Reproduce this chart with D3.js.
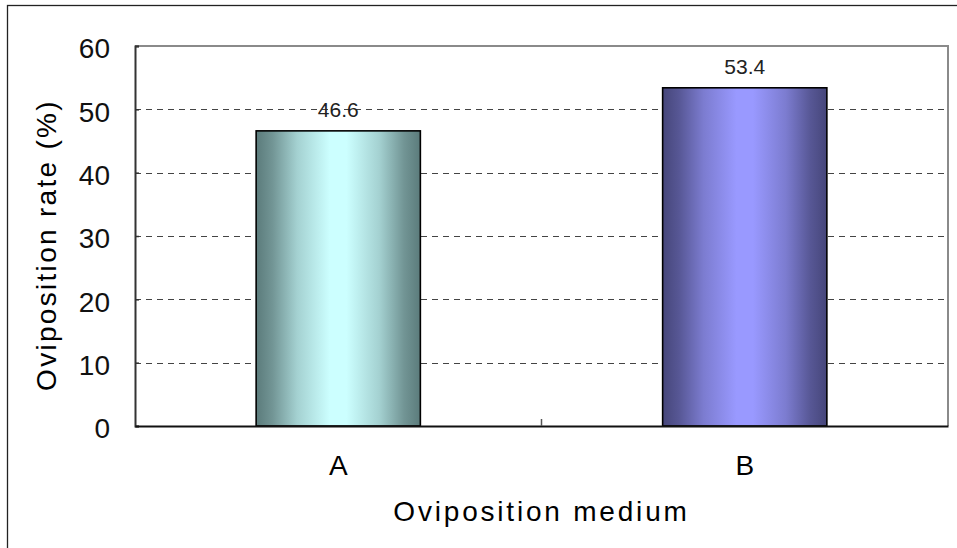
<!DOCTYPE html>
<html>
<head>
<meta charset="utf-8">
<script src="https://cdn.jsdelivr.net/npm/d3@7"></script>
<style>
  html, body { margin: 0; padding: 0; background: #fff; }
  svg { display: block; font-family: "Liberation Sans", Arial, sans-serif; }
</style>
</head>
<body>
<svg id="chart" width="957" height="548"></svg>
<script>
// Oviposition rate by medium
const categories = ["A", "B"];
const rates = [46.6, 53.4];
const yTicks = [0, 10, 20, 30, 40, 50, 60];
const gridValues = [10, 20, 30, 40, 50];

const svg = d3.select("#chart");
const W = 957, H = 548;
const plot = { left: 135, top: 46, right: 948, bottom: 426 };

// outer frame
svg.append("rect")
  .attr("x", 7.5).attr("y", 5.5)
  .attr("width", W + 10).attr("height", H + 10)
  .attr("fill", "#fff").attr("stroke", "#222").attr("stroke-width", 1.3);

const x = d3.scaleBand().domain(categories).range([plot.left, plot.right]).padding(0);
const y = d3.scaleLinear().domain([0, 60]).range([plot.bottom, plot.top]);

// bar gradients: dark edges, light centre
const defs = svg.append("defs");
const palettes = {
  A: { edge: "#5b7b7b", mid: "#ccffff" },
  B: { edge: "#46467a", mid: "#9999ff" }
};
categories.forEach(c => {
  const g = defs.append("linearGradient").attr("id", "grad" + c)
    .attr("x1", "0%").attr("x2", "100%").attr("y1", "0%").attr("y2", "0%");
  const p = palettes[c];
  const mix = d3.interpolateRgb(p.edge, p.mid);
  [[0, 0], [0.1, 0.2], [0.25, 0.65], [0.45, 1], [0.55, 1], [0.75, 0.65], [0.9, 0.2], [1, 0]]
    .forEach(([o, t]) => g.append("stop").attr("offset", o).attr("stop-color", mix(t)));
});

// dashed gridlines
svg.append("g").selectAll("line").data(gridValues).join("line")
  .attr("x1", plot.left).attr("x2", plot.right)
  .attr("y1", d => Math.round(y(d)) + 0.5).attr("y2", d => Math.round(y(d)) + 0.5)
  .attr("stroke", "#444").attr("stroke-width", 1).attr("stroke-dasharray", "6,5");

// plot border (top and right)
svg.append("path")
  .attr("d", `M${plot.left},${plot.top} H${plot.right} V${plot.bottom}`)
  .attr("fill", "none").attr("stroke", "#8a8a8a").attr("stroke-width", 2);

// bars
const barFrac = 0.404;
svg.append("g").selectAll("rect").data(categories).join("rect")
  .attr("x", d => x(d) + x.bandwidth() * (1 - barFrac) / 2)
  .attr("width", x.bandwidth() * barFrac)
  .attr("y", (d, i) => y(rates[i]))
  .attr("height", (d, i) => y(0) - y(rates[i]))
  .attr("fill", d => `url(#grad${d})`)
  .attr("stroke", "#000").attr("stroke-width", 1.6);

// value labels
svg.append("g").selectAll("text").data(categories).join("text")
  .attr("x", d => x(d) + x.bandwidth() / 2)
  .attr("y", (d, i) => y(rates[i]) - 14)
  .attr("text-anchor", "middle")
  .attr("font-size", 21).attr("fill", "#222")
  .text((d, i) => rates[i].toFixed(1));

// y axis
const yAxis = d3.axisLeft(y).tickValues(yTicks).tickSize(-4).tickPadding(25);
const gy = svg.append("g").attr("transform", `translate(${plot.left},0)`).call(yAxis);
gy.select(".domain").attr("stroke", "#333").attr("stroke-width", 2);
gy.selectAll(".tick line").attr("stroke", "#333").attr("stroke-width", 1.5);
gy.selectAll(".tick text").attr("font-size", 28).attr("fill", "#111")
  .attr("dy", "0.42em")
  .attr("font-family", "Liberation Sans, Arial, sans-serif");

// x axis
const xAxis = d3.axisBottom(x).tickSize(0).tickPadding(29);
const gx = svg.append("g").attr("transform", `translate(0,${plot.bottom})`).call(xAxis);
gx.select(".domain").attr("stroke", "#111").attr("stroke-width", 2);
gx.selectAll(".tick text").attr("font-size", 28).attr("fill", "#000")
  .attr("font-family", "Liberation Sans, Arial, sans-serif");
// category separator tick
gx.append("line")
  .attr("x1", plot.left + x.step()).attr("x2", plot.left + x.step())
  .attr("y1", 0).attr("y2", -7)
  .attr("stroke", "#555").attr("stroke-width", 1.5);

// axis titles
svg.append("text")
  .attr("x", (plot.left + plot.right) / 2)
  .attr("y", 521)
  .attr("text-anchor", "middle")
  .attr("font-size", 28).attr("letter-spacing", 2.8).attr("fill", "#000")
  .text("Oviposition medium");

svg.append("text")
  .attr("transform", `translate(56,245) rotate(-90)`)
  .attr("text-anchor", "middle")
  .attr("font-size", 28).attr("letter-spacing", 2.3).attr("fill", "#000")
  .text("Oviposition rate (%)");
</script>
</body>
</html>
